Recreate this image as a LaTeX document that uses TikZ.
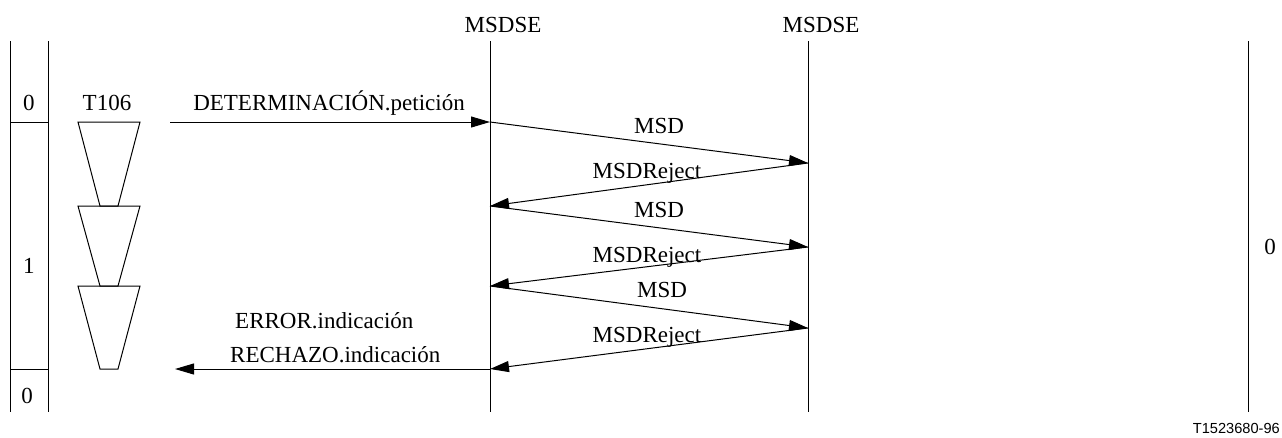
\documentclass[tikz,border=0pt]{standalone}
\usepackage{fontspec}
\setmainfont{Liberation Serif}
\newfontfamily\refsans{Liberation Sans}
\usetikzlibrary{arrows.meta}

\begin{document}
\begin{tikzpicture}[
    x=1pt, y=-1pt,
    font=\fontsize{23}{27}\selectfont,
    line/.style={line width=1pt},
    msg/.style={-{Triangle[length=19pt, width=11pt]}, line width=1pt},
    lbl/.style={anchor=base, inner sep=0pt},
    timer/.style={draw, line width=1pt}
  ]
    \useasboundingbox (0,0) rectangle (1282,437);
    % state column and life lines
    \draw[line] (10,41) -- (10,412);
    \draw[line] (48,41) -- (48,412);
    \draw[line] (10,122) -- (48,122);
    \draw[line] (10,369) -- (48,369);
    \draw[line] (490,41) -- (490,412);
    \draw[line] (808,41) -- (808,412);
    \draw[line] (1248,41) -- (1248,412);
    \node[lbl] (st0) at (29,110) {0};
    \node[lbl] (st1) at (29,273) {1};
    \node[lbl] (st2) at (27,403) {0};
    \node[lbl] (stR) at (1270,254) {0};
    \node[lbl] (seA) at (503,32) {MSDSE};
    \node[lbl] (seB) at (821,32) {MSDSE};
    \node[lbl] (tmr) at (107,110) {T106};
    % timer runs
    \foreach \ya/\yb in {122/206, 206/286, 286/369}
      \draw[timer] (78,\ya) -- (140,\ya) -- (118,\yb) -- (100,\yb) -- cycle;
    % message end points
    \coordinate (req) at (170,122);
    \coordinate (ind) at (175,369);
    \coordinate (L0) at (490,122);
    \coordinate (L1) at (490,206);
    \coordinate (L2) at (490,286);
    \coordinate (L3) at (490,369);
    \coordinate (R1) at (808,163);
    \coordinate (R2) at (808,247);
    \coordinate (R3) at (808,328);
    \draw[msg] (req) -- (L0);
    \draw[msg] (L0) -- (R1);
    \draw[msg] (R1) -- (L1);
    \draw[msg] (L1) -- (R2);
    \draw[msg] (R2) -- (L2);
    \draw[msg] (L2) -- (R3);
    \draw[msg] (R3) -- (L3);
    \draw[msg] (L3) -- (ind);
    % labels
    \node[lbl] (detreq) at (329,110) {DETERMINACIÓN.petición};
    \node[lbl] (msd1) at (659,133) {MSD};
    \node[lbl] (rej1) at (647,178) {MSDReject};
    \node[lbl] (msd2) at (659,217) {MSD};
    \node[lbl] (rej2) at (647,262) {MSDReject};
    \node[lbl] (msd3) at (662,297) {MSD};
    \node[lbl] (rej3) at (647,342) {MSDReject};
    \node[lbl, anchor=base west] (errind) at (235,328) {ERROR.indicación};
    \node[lbl, anchor=base west] (rejind) at (230,362) {RECHAZO.indicación};
    \node[lbl, anchor=base east, font=\refsans\fontsize{14.6}{17}\selectfont] (tag) at (1280,433) {T1523680-96};
  \end{tikzpicture}
\end{document}
